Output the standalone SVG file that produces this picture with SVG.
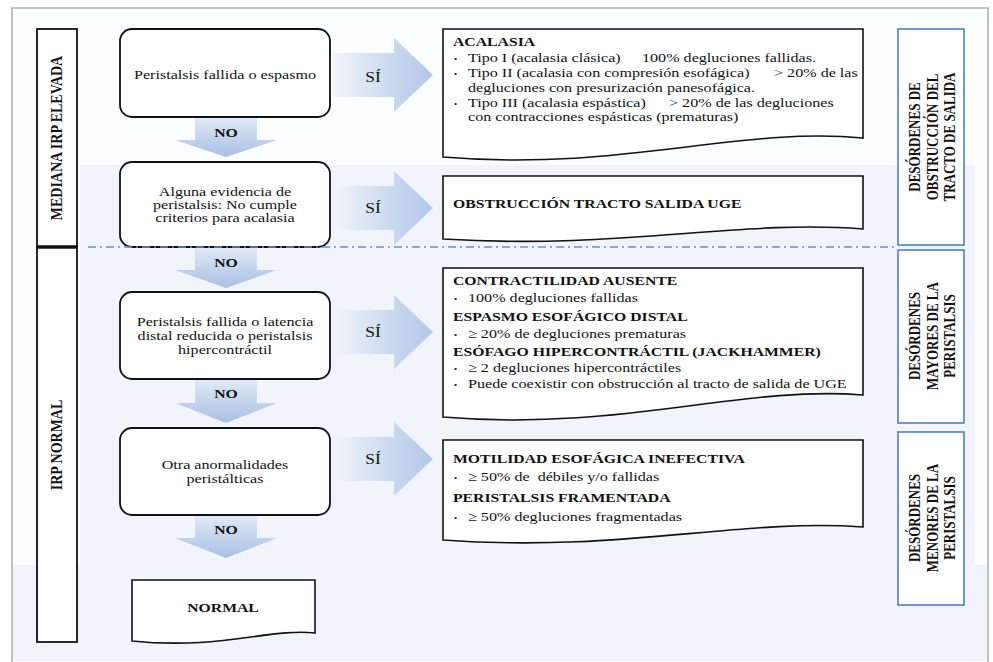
<svg xmlns="http://www.w3.org/2000/svg" width="993" height="662" viewBox="0 0 993 662">
<defs>
<linearGradient id="gR" x1="0" y1="0" x2="1" y2="0">
<stop offset="0" stop-color="#f1f5fb"/>
<stop offset="0.6" stop-color="#c9d8ef"/>
<stop offset="1" stop-color="#b3c7e8"/>
</linearGradient>
<linearGradient id="gD" x1="0" y1="0" x2="0" y2="1">
<stop offset="0" stop-color="#e2eaf6"/>
<stop offset="1" stop-color="#a9bfe4"/>
</linearGradient>
<style>
.t{font-family:"Liberation Serif","Times New Roman",serif;font-size:13px;fill:#111}
.b{font-weight:bold;font-size:12.7px}
.c{text-anchor:middle}
.lab{font-family:"Liberation Serif","Times New Roman",serif;font-weight:bold;font-size:13px;fill:#111;text-anchor:middle}
.bul{font-family:"Liberation Serif",serif;font-size:9px;fill:#111}
.dec{fill:#fff;stroke:#111;stroke-width:1.8}
.doc{fill:#fff;stroke:#111;stroke-width:1.6}
.cat{fill:#fff;stroke:#4f81bd;stroke-width:1.6}
.side{fill:#fff;stroke:#111;stroke-width:1.8}
.ar{fill:url(#gR)}
.ad{fill:url(#gD)}
</style>
</defs>
<rect x="0" y="0" width="993" height="662" fill="#fff"/>
<rect x="12" y="8" width="976" height="660" fill="#fcfdfe" stroke="#9a9a9a" stroke-width="1.2"/>
<rect x="80" y="165" width="895" height="496" fill="#f1f4fb"/>
<rect x="13" y="565" width="974" height="96" fill="#f1f4fb"/>

<g id="side-mediana">
<rect class="side" x="37" y="29" width="40" height="218"/>
<text class="lab" style="font-size:14px" transform="translate(62 138) scale(1.24 1) rotate(-90)">MEDIANA IRP ELEVADA</text>
</g>
<g id="side-normal">
<rect class="side" x="37" y="247" width="40" height="395"/>
<line x1="37" y1="247" x2="77" y2="247" stroke="#111" stroke-width="3.5"/>
<text class="lab" style="font-size:14px" transform="translate(62 445) scale(1.24 1) rotate(-90)">IRP NORMAL</text>
</g>

<g id="connectors">
<polygon class="ad" points="195,117 257,117 257,140 277,140 226,157 175,140 195,140"/>
<text class="t b c" transform="translate(226 137) scale(1.24 1)">NO</text>
<polygon class="ad" points="195,247 257,247 257,270 277,270 226,288 175,270 195,270"/>
<text class="t b c" transform="translate(226 267) scale(1.24 1)">NO</text>
<polygon class="ad" points="195,379 257,379 257,403 277,403 226,423 175,403 195,403"/>
<text class="t b c" transform="translate(226 398) scale(1.24 1)">NO</text>
<polygon class="ad" points="195,515 257,515 257,538 277,538 226,558 175,538 195,538"/>
<text class="t b c" transform="translate(226 534) scale(1.24 1)">NO</text>

<polygon class="ar" points="333,53 394,53 394,38 433,75 394,112 394,97 333,97"/>
<text class="t c" style="font-size:14px" transform="translate(373 82) scale(1.24 1)">SÍ</text>
<polygon class="ar" points="333,186 394,186 394,171 433,208 394,245 394,230 333,230"/>
<text class="t c" style="font-size:14px" transform="translate(373 213) scale(1.24 1)">SÍ</text>
<polygon class="ar" points="333,310 394,310 394,295 433,332 394,369 394,354 333,354"/>
<text class="t c" style="font-size:14px" transform="translate(373 337) scale(1.24 1)">SÍ</text>
<polygon class="ar" points="333,437 394,437 394,422 433,459 394,496 394,481 333,481"/>
<text class="t c" style="font-size:14px" transform="translate(373 464) scale(1.24 1)">SÍ</text>
</g>

<g id="dec1">
<rect class="dec" x="120" y="29" width="210" height="88" rx="12"/>
<text class="t c" transform="translate(225 79) scale(1.24 1)">Peristalsis fallida o espasmo</text>
</g>
<g id="dec2">
<rect class="dec" x="120" y="162" width="210" height="85" rx="12"/>
<text class="t c" transform="translate(225 196) scale(1.24 1)">Alguna evidencia de</text>
<text class="t c" transform="translate(225 209) scale(1.24 1)">peristalsis: No cumple</text>
<text class="t c" transform="translate(225 222) scale(1.24 1)">criterios para acalasia</text>
</g>
<g id="dec3">
<rect class="dec" x="120" y="292" width="210" height="87" rx="12"/>
<text class="t c" transform="translate(225 326) scale(1.24 1)">Peristalsis fallida o latencia</text>
<text class="t c" transform="translate(225 340) scale(1.24 1)">distal reducida o peristalsis</text>
<text class="t c" transform="translate(225 354) scale(1.24 1)">hipercontráctil</text>
</g>
<g id="dec4">
<rect class="dec" x="120" y="428" width="210" height="87" rx="12"/>
<text class="t c" transform="translate(225 469) scale(1.24 1)">Otra anormalidades</text>
<text class="t c" transform="translate(225 483) scale(1.24 1)">peristálticas</text>
</g>

<g id="separator">
<line x1="88" y1="247" x2="898" y2="247" stroke="#6f8fbd" stroke-width="1.5" stroke-dasharray="8 4 2 4"/>
</g>

<g id="normal">
<path class="doc" d="M132,580 H315 V633 C270,628 220,650 132,641 Z"/>
<text class="t b c" transform="translate(223 612) scale(1.24 1)">NORMAL</text>
</g>

<g id="acalasia">
<path class="doc" d="M443,29 H863 V138 C740,126 620,172 443,157 Z"/>
<text class="t b" transform="translate(453 46) scale(1.24 1)">ACALASIA</text>
<text class="bul" x="454" y="62">•</text>
<text class="t" transform="translate(468 62) scale(1.24 1)">Tipo I (acalasia clásica)</text>
<text class="t" transform="translate(642 62) scale(1.24 1)">100% degluciones fallidas.</text>
<text class="bul" x="454" y="77">•</text>
<text class="t" transform="translate(468 77) scale(1.24 1)">Tipo II (acalasia con compresión esofágica)</text>
<text class="t" transform="translate(774 77) scale(1.24 1)">&gt; 20% de las</text>
<text class="t" transform="translate(468 91.5) scale(1.24 1)">degluciones con presurización panesofágica.</text>
<text class="bul" x="454" y="106.5">•</text>
<text class="t" transform="translate(468 106.5) scale(1.24 1)">Tipo III (acalasia espástica)</text>
<text class="t" transform="translate(669 106.5) scale(1.24 1)">&gt; 20% de las degluciones</text>
<text class="t" transform="translate(468 121) scale(1.24 1)">con contracciones espásticas (prematuras)</text>
</g>

<g id="obstruccion">
<path class="doc" d="M443,176 H863 V229 C740,219 620,250 443,239 Z"/>
<text class="t b" transform="translate(453 208) scale(1.24 1)">OBSTRUCCIÓN TRACTO SALIDA UGE</text>
</g>

<g id="mayores">
<path class="doc" d="M443,268 H863 V395 C740,385 620,432 443,417 Z"/>
<text class="t b" transform="translate(453 285) scale(1.24 1)">CONTRACTILIDAD AUSENTE</text>
<text class="bul" x="454" y="302">•</text>
<text class="t" transform="translate(468 302) scale(1.24 1)">100% degluciones fallidas</text>
<text class="t b" transform="translate(453 321) scale(1.24 1)">ESPASMO ESOFÁGICO DISTAL</text>
<text class="bul" x="454" y="338">•</text>
<text class="t" transform="translate(468 338) scale(1.24 1)">≥ 20% de degluciones prematuras</text>
<text class="t b" transform="translate(453 356) scale(1.24 1)">ESÓFAGO HIPERCONTRÁCTIL (JACKHAMMER)</text>
<text class="bul" x="454" y="372">•</text>
<text class="t" transform="translate(468 372) scale(1.24 1)">≥ 2 degluciones hipercontráctiles</text>
<text class="bul" x="454" y="388">•</text>
<text class="t" transform="translate(468 388) scale(1.24 1)">Puede coexistir con obstrucción al tracto de salida de UGE</text>
</g>

<g id="menores">
<path class="doc" d="M443,440 H863 V527 C740,518 620,553 443,540 Z"/>
<text class="t b" transform="translate(453 463) scale(1.24 1)">MOTILIDAD ESOFÁGICA INEFECTIVA</text>
<text class="bul" x="454" y="481">•</text>
<text class="t" transform="translate(468 481) scale(1.24 1)">≥ 50% de &#160;débiles y/o fallidas</text>
<text class="t b" transform="translate(453 502) scale(1.24 1)">PERISTALSIS FRAMENTADA</text>
<text class="bul" x="454" y="521">•</text>
<text class="t" transform="translate(468 521) scale(1.24 1)">≥ 50% degluciones fragmentadas</text>
</g>

<g id="cat1">
<rect class="cat" x="898" y="29" width="66" height="216"/>
<text class="lab" transform="translate(920 137) scale(1.28 1) rotate(-90)">DESÓRDENES DE</text>
<text class="lab" transform="translate(937.5 137) scale(1.28 1) rotate(-90)">OBSTRUCCIÓN DEL</text>
<text class="lab" transform="translate(955 137) scale(1.28 1) rotate(-90)">TRACTO DE SALIDA</text>
</g>
<g id="cat2">
<rect class="cat" x="898" y="250" width="66" height="173"/>
<text class="lab" transform="translate(920 336) scale(1.28 1) rotate(-90)">DESÓRDENES</text>
<text class="lab" transform="translate(937.5 336) scale(1.28 1) rotate(-90)">MAYORES DE LA</text>
<text class="lab" transform="translate(955 336) scale(1.28 1) rotate(-90)">PERISTALSIS</text>
</g>
<g id="cat3">
<rect class="cat" x="898" y="432" width="66" height="173"/>
<text class="lab" transform="translate(920 518) scale(1.28 1) rotate(-90)">DESÓRDENES</text>
<text class="lab" transform="translate(937.5 518) scale(1.28 1) rotate(-90)">MENORES DE LA</text>
<text class="lab" transform="translate(955 518) scale(1.28 1) rotate(-90)">PERISTALSIS</text>
</g>
</svg>
